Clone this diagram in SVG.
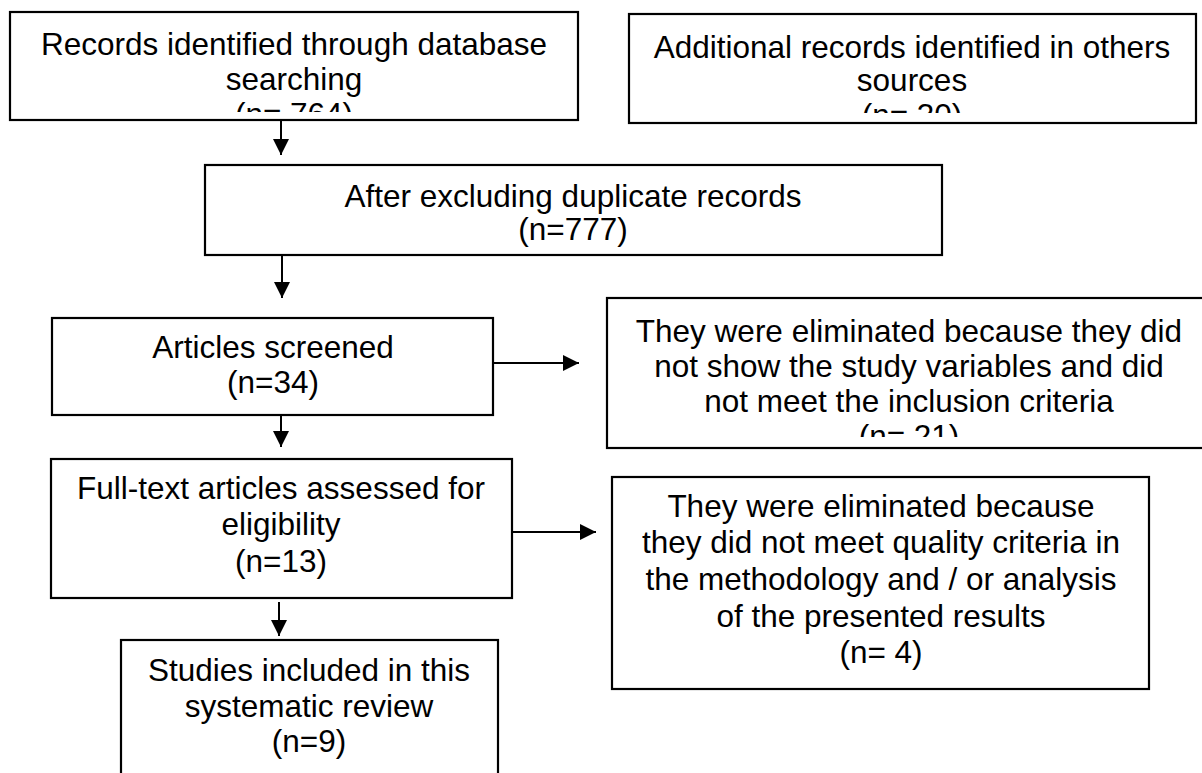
<svg xmlns="http://www.w3.org/2000/svg" width="1202" height="773" viewBox="0 0 1202 773">
<style>
.box{fill:#fff;stroke:#000;stroke-width:2.2}
.t{font-family:"Liberation Sans",Arial,sans-serif;font-size:31.5px;text-anchor:middle;fill:#000}
.c{stroke:#000;stroke-width:2;fill:none}
</style>
<defs>
<marker id="ah" viewBox="0 0 16 16" refX="16" refY="8" markerWidth="16" markerHeight="16" markerUnits="userSpaceOnUse" orient="auto">
<path d="M0,0 L16,8 L0,16 z" fill="#000"/>
</marker>
<clipPath id="clip1"><rect x="10" y="12" width="568" height="100"/></clipPath>
<clipPath id="clip2"><rect x="629" y="14" width="567" height="99"/></clipPath>
<clipPath id="clip5"><rect x="607" y="298" width="604" height="139"/></clipPath>
</defs>
<rect width="1202" height="773" fill="#fff"/>
<g id="connectors">
<line class="c" x1="281" y1="120" x2="281" y2="155" marker-end="url(#ah)"/>
<line class="c" x1="282" y1="255" x2="282" y2="298" marker-end="url(#ah)"/>
<line class="c" x1="493" y1="363" x2="579" y2="363" marker-end="url(#ah)"/>
<line class="c" x1="281" y1="415" x2="281" y2="447" marker-end="url(#ah)"/>
<line class="c" x1="512" y1="532" x2="596" y2="532" marker-end="url(#ah)"/>
<line class="c" x1="279" y1="602" x2="279" y2="636" marker-end="url(#ah)"/>
</g>
<g id="n1">
<rect class="box" x="10" y="12" width="568" height="108"/>
<g clip-path="url(#clip1)">
<text class="t"><tspan x="294" y="55">Records identified through database</tspan><tspan x="294" y="90">searching</tspan><tspan x="294" y="125">(n= 764)</tspan></text>
</g>
</g>
<g id="n2">
<rect class="box" x="629" y="14" width="567" height="109"/>
<g clip-path="url(#clip2)">
<text class="t"><tspan x="912" y="58">Additional records identified in others</tspan><tspan x="912" y="91">sources</tspan><tspan x="912" y="126">(n= 30)</tspan></text>
</g>
</g>
<g id="n3">
<rect class="box" x="205" y="165" width="737" height="90"/>
<text class="t"><tspan x="573" y="207">After excluding duplicate records</tspan><tspan x="573" y="240">(n=777)</tspan></text>
</g>
<g id="n4">
<rect class="box" x="52" y="318" width="441" height="97"/>
<text class="t"><tspan x="273" y="358">Articles screened</tspan><tspan x="273" y="393">(n=34)</tspan></text>
</g>
<g id="n5">
<rect class="box" x="607" y="298" width="604" height="150"/>
<g clip-path="url(#clip5)">
<text class="t"><tspan x="909" y="342">They were eliminated because they did</tspan><tspan x="909" y="377">not show the study variables and did</tspan><tspan x="909" y="412">not meet the inclusion criteria</tspan><tspan x="909" y="447">(n= 21)</tspan></text>
</g>
</g>
<g id="n6">
<rect class="box" x="51" y="459" width="461" height="139"/>
<text class="t"><tspan x="281" y="499">Full-text articles assessed for</tspan><tspan x="281" y="535">eligibility</tspan><tspan x="281" y="572">(n=13)</tspan></text>
</g>
<g id="n7">
<rect class="box" x="612" y="477" width="537" height="212"/>
<text class="t"><tspan x="881" y="517">They were eliminated because</tspan><tspan x="881" y="553">they did not meet quality criteria in</tspan><tspan x="881" y="590">the methodology and / or analysis</tspan><tspan x="881" y="627">of the presented results</tspan><tspan x="881" y="663">(n= 4)</tspan></text>
</g>
<g id="n8">
<rect class="box" x="121" y="640" width="377" height="160"/>
<text class="t"><tspan x="309" y="681">Studies included in this</tspan><tspan x="309" y="717">systematic review</tspan><tspan x="309" y="752">(n=9)</tspan></text>
</g>
</svg>
